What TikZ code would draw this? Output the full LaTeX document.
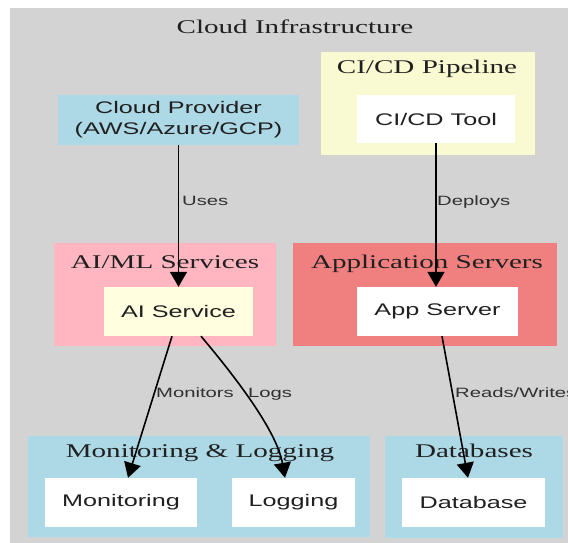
\documentclass[tikz,border=0pt]{standalone}
\usepackage{fontspec}
\usetikzlibrary{arrows.meta,calc}
\newfontfamily\sansf[FakeStretch=1.5]{Liberation Sans}
\newfontfamily\seriff[FakeStretch=1.5]{Liberation Serif}
\definecolor{bggray}{HTML}{D3D3D3}
\definecolor{lblue}{HTML}{ADD8E6}
\definecolor{lgyellow}{HTML}{FAFAD2}
\definecolor{lyellow}{HTML}{FFFFE0}
\definecolor{lpink}{HTML}{FFB6C1}
\definecolor{lcoral}{HTML}{F08080}
\definecolor{txt}{HTML}{202020}
\definecolor{lbltxt}{HTML}{303030}
\tikzset{
  cluster/.style={fill=#1, draw=none, inner sep=0pt},
  nodebox/.style={fill=#1, draw=none, inner sep=0pt, align=center, text=txt,
    font=\sansf\fontsize{16.8}{21}\selectfont},
  ctitle/.style={anchor=base, inner sep=0pt, text=txt,
    font=\seriff\fontsize{19.4}{22}\selectfont},
  elabel/.style={anchor=base west, inner sep=0pt, text=lbltxt,
    font=\sansf\fontsize{13.5}{15}\selectfont},
  conn/.style={draw=black, line width=1.6pt,
    -{Triangle[length=15pt,width=17pt]}}
}
\begin{document}
\begin{tikzpicture}[x=1pt,y=-1pt]
\useasboundingbox (0,0) rectangle (568,543);
% outer cluster
\fill[bggray] (10,8) rectangle (568,543);
\node[ctitle] (tmain) at (295,34) {Cloud Infrastructure};

% clusters
\node[cluster=lgyellow, minimum width=214pt, minimum height=103pt] (kcicd) at (428,103.5) {};
\node[ctitle] (tcicd) at (427,74) {CI/CD Pipeline};

\node[cluster=lpink, minimum width=222pt, minimum height=103pt] (kai) at (165,294.5) {};
\node[ctitle] (tai) at (165,268) {AI/ML Services};

\node[cluster=lcoral, minimum width=264pt, minimum height=103pt] (kapp) at (425,294.5) {};
\node[ctitle] (tapp) at (427,268) {Application Servers};

\node[cluster=lblue, minimum width=342pt, minimum height=101pt] (kmon) at (199,486.5) {};
\node[ctitle] (tmon) at (200,457) {Monitoring \& Logging};

\node[cluster=lblue, minimum width=178pt, minimum height=102pt] (kdb) at (474,487) {};
\node[ctitle] (tdb) at (474,457) {Databases};

% nodes
\node[nodebox=lblue, minimum width=241pt, minimum height=50pt] (cp) at (178.5,120) {Cloud Provider\\(AWS/Azure/GCP)};
\node[nodebox=white, minimum width=158pt, minimum height=48pt] (cicd) at (436,119) {CI/CD Tool};
\node[nodebox=lyellow, minimum width=149pt, minimum height=49pt] (ai) at (178.5,311.5) {AI Service};
\node[nodebox=white, minimum width=161pt, minimum height=49pt] (app) at (437.5,311.5) {App Server};
\node[nodebox=white, minimum width=152pt, minimum height=49pt] (mon) at (121,502.5) {Monitoring};
\node[nodebox=white, minimum width=123pt, minimum height=49pt] (log) at (293.5,502.5) {Logging};
\node[nodebox=white, minimum width=143pt, minimum height=49pt] (db) at (473.5,502.5) {Database};

% connectors
\draw[conn] (cp.south) -- (ai.north);
\draw[conn] (cicd.south) -- (cicd.south |- app.north);
\draw[conn] ($(ai.south)+(-6.5,0)$) -- ($(mon.north)+(7,0)$);
\draw[conn] ($(ai.south)+(22.5,0)$) .. controls (238,380) and (277,432) .. ($(log.north)+(-8.5,0)$);
\draw[conn] ($(app.south)+(4.5,0)$) -- ($(db.north)+(-5.5,0)$);

% connector labels
\node[elabel] (luses) at (182,205) {Uses};
\node[elabel] (ldep) at (437,205) {Deploys};
\node[elabel] (lmon) at (156,397) {Monitors};
\node[elabel] (llog) at (248,397) {Logs};
\node[elabel] (lrw) at (455,397) {Reads/Writes};
\end{tikzpicture}
\end{document}
